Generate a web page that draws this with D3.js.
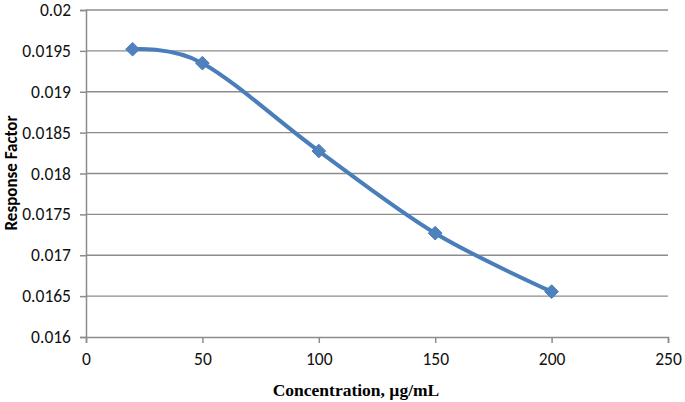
<!DOCTYPE html>
<html>
<head>
<meta charset="utf-8">
<title>Response Factor</title>
<script src="https://cdn.jsdelivr.net/npm/d3@7"></script>
<style>
  body { margin: 0; background: #fff; }
</style>
</head>
<body>
<script>
// data
var concentrations = [20, 50, 100, 150, 200];
var responseFactors = [0.01952, 0.01935, 0.018275, 0.01727, 0.016555];
var xTicks = [0, 50, 100, 150, 200, 250];
var yTicks = [0.016, 0.0165, 0.017, 0.0175, 0.018, 0.0185, 0.019, 0.0195, 0.02];

var W = 685, H = 402;
var mLeft = 86, mRight = 668, mTop = 10, mBottom = 337;

var svg = d3.select("body").append("svg")
    .attr("width", W)
    .attr("height", H);

var x = d3.scaleLinear().domain([0, 250]).range([mLeft, mRight]);
var y = d3.scaleLinear().domain([0.016, 0.02]).range([mBottom, mTop]);

// horizontal gridlines
svg.append("g")
   .selectAll("line")
   .data(yTicks.slice(1))
   .enter().append("line")
   .attr("x1", mLeft).attr("x2", mRight)
   .attr("y1", function(d) { return y(d); })
   .attr("y2", function(d) { return y(d); })
   .attr("stroke", "#8c8c8c")
   .attr("stroke-width", 1.3);

// y axis
var yAxis = svg.append("g")
    .attr("transform", "translate(" + mLeft + ",0)")
    .call(d3.axisLeft(y).tickValues(yTicks).tickSize(6).tickPadding(9)
            .tickFormat(function(d) { return String(+d.toFixed(4)); }));

// x axis
var xAxis = svg.append("g")
    .attr("transform", "translate(0," + mBottom + ")")
    .call(d3.axisBottom(x).tickValues(xTicks).tickSize(6).tickPadding(8));

[yAxis, xAxis].forEach(function(a) {
  a.attr("font-family", "Calibri, Carlito, 'Open Sans', sans-serif").attr("font-size", 17.5);
  a.select(".domain").attr("stroke", "#8c8c8c").attr("stroke-width", 1.5);
  a.selectAll(".tick line").attr("stroke", "#8c8c8c").attr("stroke-width", 1.5);
  a.selectAll(".tick text").attr("fill", "#111");
});
xAxis.selectAll(".tick text").attr("dy", "0.8em");

// smoothed line
var pts = concentrations.map(function(c, i) { return [c, responseFactors[i]]; });
var line = d3.line()
    .x(function(d) { return x(d[0]); })
    .y(function(d) { return y(d[1]); })
    .curve(d3.curveCatmullRom.alpha(0));

svg.append("path")
   .datum(pts)
   .attr("d", line)
   .attr("fill", "none")
   .attr("stroke", "#4a7ebb")
   .attr("stroke-width", 4);

// diamond markers
svg.selectAll(".pt")
   .data(pts)
   .enter().append("path")
   .attr("class", "pt")
   .attr("d", d3.symbol().type(d3.symbolDiamond2).size(120))
   .attr("transform", function(d) { return "translate(" + x(d[0]) + "," + y(d[1]) + ")"; })
   .attr("fill", "#4f81bd")
   .attr("stroke", "#4a7ebb")
   .attr("stroke-width", 1);

// axis titles
svg.append("text")
   .attr("x", (mLeft + mRight) / 2 - 21)
   .attr("y", 396)
   .attr("text-anchor", "middle")
   .style("font-family", "'Times New Roman', 'Liberation Serif', serif")
   .style("font-weight", "bold")
   .style("font-size", "17.5px")
   .text("Concentration, µg/mL");

svg.append("text")
   .attr("transform", "translate(17," + 173 + ") rotate(-90)")
   .attr("text-anchor", "middle")
   .style("font-family", "Calibri, Carlito, 'Open Sans', Arial, sans-serif")
   .style("font-weight", "bold")
   .style("font-size", "17px")
   .text("Response Factor");
</script>
</body>
</html>
